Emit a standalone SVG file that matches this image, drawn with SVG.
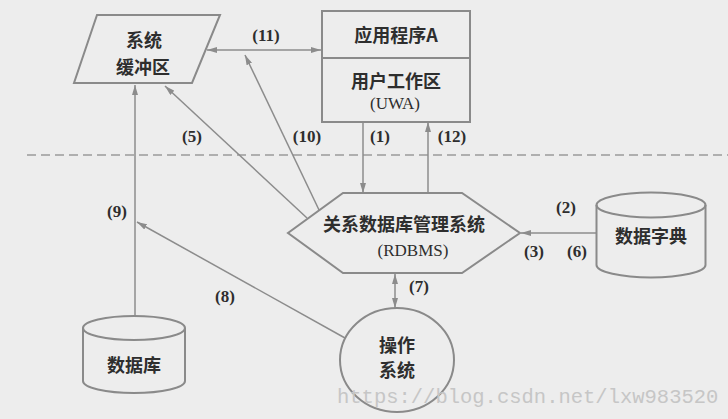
<svg xmlns="http://www.w3.org/2000/svg" width="728" height="419" viewBox="0 0 728 419">
<style>
.node{fill:#ededed;stroke:#8a8a8a;stroke-width:2}
.cn{font-family:"Noto Sans CJK SC","Noto Sans",sans-serif;font-weight:bold;font-size:18px;fill:#2e2e2e;text-anchor:middle}
.lat{font-family:"Liberation Serif","Times New Roman",serif;font-size:17px;fill:#2e2e2e;text-anchor:middle}
.lbl{font-family:"Liberation Serif","Times New Roman",serif;font-weight:bold;font-size:17px;fill:#2e2e2e;text-anchor:middle}
.con line{stroke:#8c8c8c;stroke-width:1.5;fill:none}
</style>
<defs>
<marker id="ah" viewBox="0 0 10 6" refX="10" refY="3" markerWidth="10" markerHeight="6" markerUnits="userSpaceOnUse" orient="auto-start-reverse">
<path d="M0,0 L10,3 L0,6 Z" fill="#8c8c8c"/>
</marker>
</defs>
<rect x="0" y="0" width="728" height="419" fill="#ededed"/>
<line x1="27" y1="155" x2="728" y2="155" stroke="#9a9a9a" stroke-width="1.5" stroke-dasharray="9 5"/>
<g class="con" id="connectors">
<line x1="207" y1="50" x2="321" y2="50" marker-start="url(#ah)" marker-end="url(#ah)"/>
<line x1="320" y1="212" x2="245" y2="55" marker-end="url(#ah)"/>
<line x1="307" y1="218" x2="165" y2="86" marker-end="url(#ah)"/>
<line x1="363" y1="122" x2="363" y2="193" marker-end="url(#ah)"/>
<line x1="428" y1="193" x2="428" y2="122" marker-end="url(#ah)"/>
<line x1="135" y1="316" x2="135" y2="85" marker-end="url(#ah)"/>
<line x1="345" y1="338" x2="137" y2="222" marker-end="url(#ah)"/>
<line x1="597" y1="233" x2="521" y2="233" marker-end="url(#ah)"/>
<line x1="395" y1="274" x2="395" y2="308" marker-start="url(#ah)" marker-end="url(#ah)"/>
</g>
<g id="labels">
<text class="lbl" x="266" y="41">(11)</text>
<text class="lbl" x="192" y="142">(5)</text>
<text class="lbl" x="307" y="142">(10)</text>
<text class="lbl" x="380" y="142">(1)</text>
<text class="lbl" x="452" y="142">(12)</text>
<text class="lbl" x="117" y="217">(9)</text>
<text class="lbl" x="225" y="302">(8)</text>
<text class="lbl" x="566" y="213">(2)</text>
<text class="lbl" x="534" y="257">(3)</text>
<text class="lbl" x="577" y="257">(6)</text>
<text class="lbl" x="419" y="292">(7)</text>
</g>
<g id="buffer">
<polygon class="node" points="97,15 220,15 192,83 74,83"/>
<text class="cn"><tspan x="144" y="47">系统</tspan><tspan x="143" y="74">缓冲区</tspan></text>
</g>
<g id="app">
<rect class="node" x="322" y="11" width="148" height="111"/>
<line x1="322" y1="58" x2="470" y2="58" stroke="#8a8a8a" stroke-width="2"/>
<text class="cn" x="396" y="42">应用程序A</text>
<text class="cn" x="396" y="88">用户工作区</text>
<text class="lat" x="395" y="109">(UWA)</text>
</g>
<g id="rdbms">
<polygon class="node" points="343,193 462,193 520,233 462,273 343,273 288,233"/>
<text class="cn" x="404" y="231">关系数据库管理系统</text>
<text class="lat" x="413" y="256" font-size="18">(RDBMS)</text>
</g>
<g id="dict">
<path class="node" d="M596.5,205 A54.5,12.5 0 0 1 705.5,205 L705.5,265 A54.5,12.5 0 0 1 596.5,265 Z"/>
<path d="M596.5,205 A54.5,12.5 0 0 0 705.5,205" fill="none" stroke="#8a8a8a" stroke-width="2"/>
<text class="cn" x="651" y="243">数据字典</text>
</g>
<g id="db">
<path class="node" d="M83,328 A51,12 0 0 1 185,328 L185,381 A51,12 0 0 1 83,381 Z"/>
<path d="M83,328 A51,12 0 0 0 185,328" fill="none" stroke="#8a8a8a" stroke-width="2"/>
<text class="cn" x="134" y="372">数据库</text>
</g>
<g id="os">
<ellipse class="node" cx="397" cy="360" rx="57" ry="52"/>
<text class="cn" font-size="16.5"><tspan x="397" y="352">操作</tspan><tspan x="397" y="376.5">系统</tspan></text>
</g>
<text x="337" y="403" font-family="Liberation Mono,monospace" font-size="20.5" fill="#c6c6c6">https://blog.csdn.net/lxw983520</text>
</svg>
